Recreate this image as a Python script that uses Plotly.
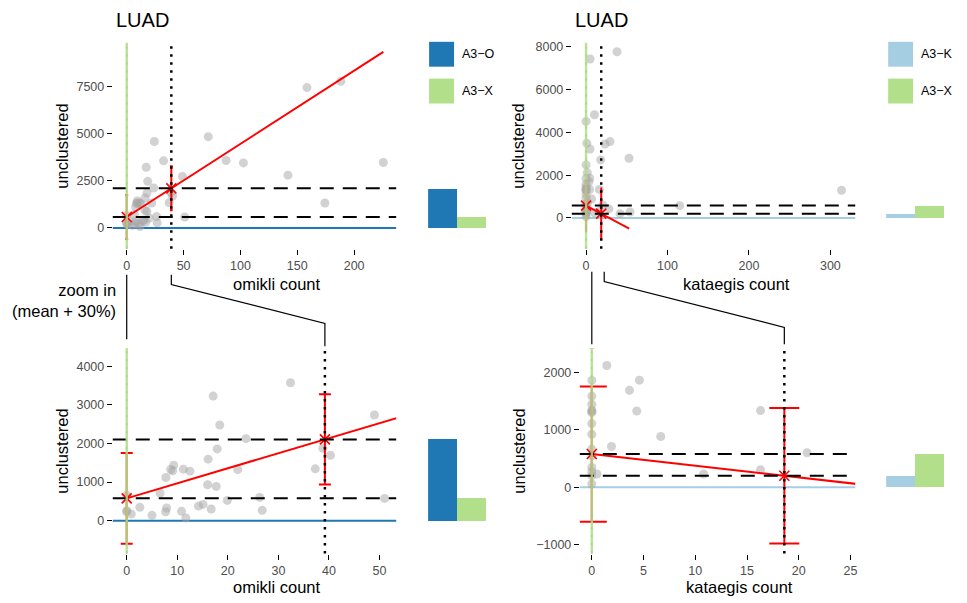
import plotly.graph_objects as go

# ---------------- data ----------------
omikli_count = [32.4, 17.1, 18.4, 23.6, 17.9, 16.1, 9.3, 8.7, 9.1, 11.2, 12.5, 7.75, 21.95,
                16.0, 17.7, 6.6, 19.9, 26.3, 26.8, 2.6, 5.0, 7.9, 7.7, 10.85, 11.7, 14.2,
                15.1, 16.7, 37.3, 38.8, 40.3, 49.0, 51.0, 0.0, 0.0, 0.9, 0.0,
                158.5, 188.3, 225.7, 71.7, 87.4, 102.6, 141.8, 174.3, 24.3]
omikli_unclustered = [3570, 3226, 2477, 2124, 1858, 1592, 1437, 1325, 1290, 1333, 1282, 1118, 1325,
                      929, 886, 714, 525, 602, 267, 344, 138, 327, 232, 241, 69, 379,
                      421, 301, 1342, 1875, 1695, 2735, 576, 660, 258, 172, 230,
                      7468, 7802, 3480, 4857, 3585, 3460, 2807, 1324, 4600]

kataegis_count = [0, 0, 0, 0, 0, 0, 0, 0,
                  0, 0, 0, 0, 0, 0, 0, 0, 0.9,
                  1.45, 4.6, 3.64, 4.34, 6.66, 1.9, 10.8, 16.3, 16.3, 20.8, 0.5,
                  38, 4.9, 10.3, 4.9, 23.3, 29.4, 52.7, 18, 115, 54, 41.7, 313.7, 28]
kataegis_unclustered = [1858, 1586, 1442, 1338, 1298, 1320, 1107, 923,
                        664, 548, 346, 271, 202, 58, 4512, 2479, 3488,
                        2118, 1863, 1685, 1327, 882, 710, 232, 1333, 306, 600, 232,
                        7767, 7428, 4823, 3223, 3457, 3567, 2791, 2712, 572, 279, 200, 1288, 420]

omikli_groups = ["A3−O", "A3−X"]
omikli_group_count_mean = [39.2, 0.0]
omikli_group_unclustered_mean = [2105, 578]
omikli_group_unclustered_sd = [1170, 1175]
omikli_fit_end = 225.7

kataegis_groups = ["A3−K", "A3−X"]
kataegis_group_count_mean = [18.6, 0.0]
kataegis_group_unclustered_mean = [200, 578]
kataegis_group_unclustered_sd = [1177, 1175]
kataegis_fit_end = 53.0

ticks_x_omikli_full = [0, 50, 100, 150, 200]
ticks_y_omikli_full = [0, 2500, 5000, 7500]
ticks_x_kataegis_full = [0, 100, 200, 300]
ticks_y_kataegis_full = [0, 2000, 4000, 6000, 8000]
ticks_x_omikli_zoom = [0, 10, 20, 30, 40, 50]
ticks_y_omikli_zoom = [0, 1000, 2000, 3000, 4000]
ticks_x_kataegis_zoom = [0, 5, 10, 15, 20, 25]
ticks_y_kataegis_zoom = [-1000, 0, 1000, 2000]

# ---------------- style / layout ----------------
W, H = 967, 603
FONT = "Liberation Sans, Arial, Helvetica, sans-serif"
C_O = "#1F78B4"
C_X = "#B2DF8A"
C_K = "#A6CEE3"
PT = "rgba(165,165,165,0.5)"


def fx(px):
    return px / W


def fy(py):
    return 1 - py / H


panels = [
    dict(cx=omikli_count, cy=omikli_unclustered, groups=omikli_groups,
         cm=omikli_group_count_mean, um=omikli_group_unclustered_mean,
         sd=omikli_group_unclustered_sd, fit_end=omikli_fit_end, gcol=C_O,
         sx=(113, 397), sy=(40, 247), bx=(429, 487),
         xr=[-12.3, 237], yr=[-1112, 9852],
         xt=ticks_x_omikli_full, yt=ticks_y_omikli_full, cap=1.4,
         xtitle="omikli count", xtc=278, xty=282, ytx=62, title=True, legend=True, lx=430),
    dict(cx=kataegis_count, cy=kataegis_unclustered, groups=kataegis_groups,
         cm=kataegis_group_count_mean, um=kataegis_group_unclustered_mean,
         sd=kataegis_group_unclustered_sd, fit_end=kataegis_fit_end, gcol=C_K,
         sx=(573, 857), sy=(40, 247), bx=(888, 946),
         xr=[-17.5, 330.5], yr=[-1442, 8186],
         xt=ticks_x_kataegis_full, yt=ticks_y_kataegis_full, cap=1.0,
         xtitle="kataegis count", xtc=738, xty=282, ytx=519, title=True, legend=True, lx=890),
    dict(cx=omikli_count, cy=omikli_unclustered, groups=omikli_groups,
         cm=omikli_group_count_mean, um=omikli_group_unclustered_mean,
         sd=omikli_group_unclustered_sd, fit_end=omikli_fit_end, gcol=C_O,
         sx=(113, 397), sy=(346.7, 553.3), bx=(429, 487),
         xr=[-2.76, 53.3], yr=[-852, 4472],
         xt=ticks_x_omikli_zoom, yt=ticks_y_omikli_zoom, cap=6,
         xtitle="omikli count", xtc=278, xty=587, ytx=62, title=False, legend=False),
    dict(cx=kataegis_count, cy=kataegis_unclustered, groups=kataegis_groups,
         cm=kataegis_group_count_mean, um=kataegis_group_unclustered_mean,
         sd=kataegis_group_unclustered_sd, fit_end=kataegis_fit_end, gcol=C_K,
         sx=(581, 857), sy=(346.7, 553.3), bx=(888, 946),
         xr=[-1.16, 25.45], yr=[-1152, 2422],
         xt=ticks_x_kataegis_zoom, yt=ticks_y_kataegis_zoom, cap=15,
         xtitle="kataegis count", xtc=741, xty=587, ytx=520, title=False, legend=False),
]


def data_to_px(p, v):
    (a, b), (r0, r1) = p["sx"], p["xr"]
    return a + (v - r0) / (r1 - r0) * (b - a)


fig = go.Figure()
layout = {}
shapes = []
annotations = []

tickfont = dict(family=FONT, size=12.5, color="#4D4D4D")

for i, p in enumerate(panels):
    si, bi = 2 * i + 1, 2 * i + 2
    sxid = "x" if si == 1 else f"x{si}"
    syid = "y" if si == 1 else f"y{si}"
    bxid, byid = f"x{bi}", f"y{bi}"
    sxname = "xaxis" if si == 1 else f"xaxis{si}"
    syname = "yaxis" if si == 1 else f"yaxis{si}"

    common = dict(showgrid=False, zeroline=False, showline=False, ticks="outside",
                  ticklen=5, tickwidth=1.3, tickcolor="black", tickfont=tickfont,
                  tickmode="array", fixedrange=True)
    layout[sxname] = dict(common, domain=[fx(p["sx"][0]), fx(p["sx"][1])], range=p["xr"],
                          tickvals=p["xt"], anchor=syid)
    layout[syname] = dict(common, domain=[fy(p["sy"][1]), fy(p["sy"][0])], range=p["yr"],
                          tickvals=p["yt"], anchor=sxid)
    layout[f"xaxis{bi}"] = dict(domain=[fx(p["bx"][0]), fx(p["bx"][1])], range=[-0.5, 1.5],
                                visible=False, anchor=byid, fixedrange=True)
    layout[f"yaxis{bi}"] = dict(domain=[fy(p["sy"][1]), fy(p["sy"][0])], range=p["yr"],
                                visible=False, anchor=bxid, fixedrange=True)

    # points
    fig.add_trace(go.Scatter(x=p["cx"], y=p["cy"], mode="markers", xaxis=sxid, yaxis=syid,
                             marker=dict(size=9, color=PT, line=dict(width=0)),
                             hoverinfo="skip"))

    c_g, c_x = p["cm"]
    m_g, m_x = p["um"]
    # error bars (group sd)
    fig.add_trace(go.Scatter(x=p["cm"], y=p["um"], mode="markers", xaxis=sxid, yaxis=syid,
                             marker=dict(size=1, color="rgba(0,0,0,0)"),
                             error_y=dict(type="data", array=p["sd"], color="red",
                                          thickness=2, width=p["cap"]),
                             hoverinfo="skip"))
    # line through the two group means
    slope = (m_g - m_x) / (c_g - c_x)
    fig.add_trace(go.Scatter(x=[c_x, p["fit_end"]],
                             y=[m_x, m_x + slope * (p["fit_end"] - c_x)],
                             mode="lines", xaxis=sxid, yaxis=syid,
                             line=dict(color="red", width=2), hoverinfo="skip"))
    # group mean crosses
    fig.add_trace(go.Scatter(x=p["cm"], y=p["um"], mode="markers", xaxis=sxid, yaxis=syid,
                             marker=dict(symbol="x-thin", size=10,
                                         line=dict(color="red", width=1.6)),
                             hoverinfo="skip"))
    # bars of group means
    fig.add_trace(go.Bar(x=[0, 1], y=p["um"], width=1, xaxis=bxid, yaxis=byid,
                         marker=dict(color=[p["gcol"], C_X], line=dict(width=0)),
                         hoverinfo="skip"))

    # reference lines
    shapes.append(dict(type="line", xref=f"{sxid} domain", yref=syid, x0=0, x1=1,
                       y0=0, y1=0, line=dict(color=p["gcol"], width=2), layer="below"))
    for m in p["um"]:
        shapes.append(dict(type="line", xref=f"{sxid} domain", yref=syid, x0=0, x1=1,
                           y0=m, y1=m, line=dict(color="black", width=2, dash="14px,9px"),
                           layer="above"))
    shapes.append(dict(type="line", xref=sxid, yref=f"{syid} domain", x0=c_g, x1=c_g,
                       y0=0, y1=1, line=dict(color="black", width=2.5, dash="2.5px,5.5px"),
                       layer="above"))
    shapes.append(dict(type="line", xref=sxid, yref=f"{syid} domain", x0=c_x, x1=c_x,
                       y0=0, y1=1, line=dict(color="#666666", width=1, dash="2.5px,5.5px"),
                       layer="above"))
    shapes.append(dict(type="line", xref=sxid, yref=f"{syid} domain", x0=c_x, x1=c_x,
                       y0=0, y1=1, line=dict(color=C_X, width=2.5), opacity=0.85,
                       layer="above"))

    # axis titles
    annotations.append(dict(text=p["xtitle"], x=fx(p["xtc"]), y=fy(p["xty"]), xref="paper",
                            yref="paper", showarrow=False, xanchor="center", yanchor="middle",
                            font=dict(family=FONT, size=16.5, color="black")))
    annotations.append(dict(text="unclustered", x=fx(p["ytx"]),
                            y=fy((p["sy"][0] + p["sy"][1]) / 2), xref="paper", yref="paper",
                            showarrow=False, textangle=-90, xanchor="center", yanchor="middle",
                            font=dict(family=FONT, size=16.5, color="black")))
    if p["title"]:
        annotations.append(dict(text="LUAD", x=fx(p["sx"][0] + 1), y=fy(17), xref="paper",
                                yref="paper", showarrow=False, xanchor="left",
                                yanchor="middle",
                                font=dict(family=FONT, size=20, color="black")))
    if p["legend"]:
        for k, (name, col) in enumerate(zip(p["groups"], [p["gcol"], C_X])):
            top = 39 + 37 * k
            shapes.append(dict(type="rect", xref="paper", yref="paper",
                               x0=fx(p["lx"]), x1=fx(p["lx"] + 25), y0=fy(top + 25),
                               y1=fy(top), fillcolor=col, line=dict(width=0)))
            annotations.append(dict(text=name, x=fx(p["lx"] + 31), y=fy(top + 12.5),
                                    xref="paper", yref="paper", showarrow=False,
                                    xanchor="left", yanchor="middle",
                                    font=dict(family=FONT, size=12.5, color="black")))

# ---------------- zoom connectors ----------------
def path(points):
    return "M " + " L ".join(f"{fx(a):.5f},{fy(b):.5f}" for a, b in points)


conn = dict(color="black", width=1.2)
tl, tr, bl, br = panels
x0_l = data_to_px(bl, omikli_group_count_mean[1])
shapes.append(dict(type="path", xref="paper", yref="paper",
                   path=path([(x0_l, 273), (x0_l, 338)]), line=conn))
xa, xb = data_to_px(tl, omikli_group_count_mean[0]), data_to_px(bl, omikli_group_count_mean[0])
shapes.append(dict(type="path", xref="paper", yref="paper",
                   path=path([(xa, 273), (xa, 283), (xb, 322), (xb, 345)]), line=conn))
x0_r = data_to_px(br, kataegis_group_count_mean[1])
shapes.append(dict(type="path", xref="paper", yref="paper",
                   path=path([(x0_r, 270), (x0_r, 343)]), line=conn))
xa, xb = data_to_px(tr, kataegis_group_count_mean[0]), data_to_px(br, kataegis_group_count_mean[0])
shapes.append(dict(type="path", xref="paper", yref="paper",
                   path=path([(xa + 3, 270), (xa + 3, 280), (xb, 326), (xb, 343)]), line=conn))

annotations.append(dict(text="zoom in<br>(mean + 30%)", x=fx(118), y=fy(299), xref="paper",
                        yref="paper", showarrow=False, xanchor="right", yanchor="middle",
                        align="right", font=dict(family=FONT, size=16.5, color="black")))

fig.update_layout(width=W, height=H, margin=dict(l=0, r=0, t=0, b=0),
                  plot_bgcolor="white", paper_bgcolor="white", showlegend=False,
                  shapes=shapes, annotations=annotations, bargap=0, **layout)

fig.write_html("out.html", config={"displayModeBar": False})
